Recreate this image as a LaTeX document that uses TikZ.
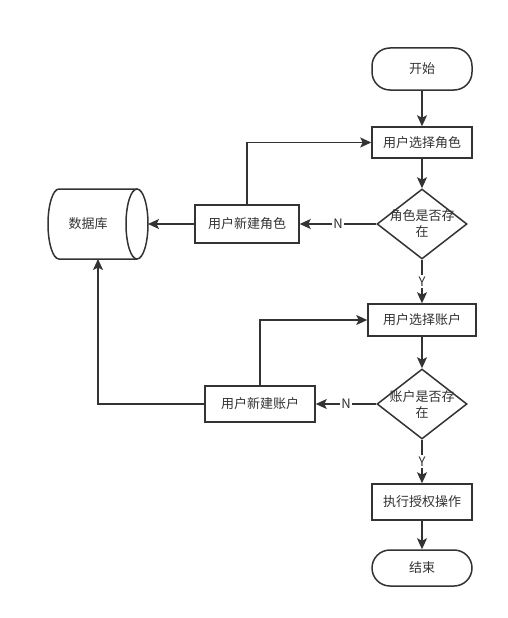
\documentclass[tikz,border=0pt]{standalone}
\usepackage{fontspec}
\setmainfont{Noto Sans CJK SC}
\usetikzlibrary{arrows.meta,shapes.geometric}
\definecolor{lc}{HTML}{333333}
\definecolor{tc}{HTML}{333333}
\begin{document}
\begin{tikzpicture}[x=1pt,y=-1pt,
  txt/.style={font=\fontsize{13}{16}\selectfont, text=tc, inner sep=0pt},
  box/.style={txt, draw=lc, line width=1.5pt, minimum width=100pt, minimum height=32pt},
  term/.style={box, rounded corners=18pt},
  dec/.style={diamond, draw=lc, line width=1.5pt, minimum width=90pt, minimum height=70pt, inner sep=0pt, aspect=1.2857},
  arr/.style={draw=lc, line width=1.5pt, -{Stealth[length=11pt,width=10pt,inset=2.5pt]}},
  lbl/.style={txt, fill=white, inner sep=1.5pt}
]
\useasboundingbox[fill=white] (0,0) rectangle (507,618);

\node[term, minimum height=42pt] (start) at (422,69) {开始};
\node[box, minimum height=31pt] (r1) at (422,142.5) {用户选择角色};
\node[dec] (d1) at (422,224) {};
\node[txt, align=center] (d1t) at (422,224) {角色是否存\\在};
\node[box, minimum width=104pt, minimum height=38pt] (nr) at (247,224) {用户新建角色};

% database cylinder
\draw[draw=lc, line width=1.5pt, fill=white] (137,189) -- (59,189)
  arc[start angle=90, end angle=270, x radius=11pt, y radius=35pt] -- (137,259);
\draw[draw=lc, line width=1.5pt] (137,224) ellipse[x radius=11pt, y radius=35pt];
\node[txt] (db) at (88,224) {数据库};
\coordinate (dbE) at (148,224);
\coordinate (dbS) at (98,259);

\node[box, minimum width=108pt, minimum height=32pt] (r2) at (422,320) {用户选择账户};
\node[dec] (d2) at (422,404) {};
\node[txt, align=center] (d2t) at (422,404) {账户是否存\\在};
\node[box, minimum width=110pt, minimum height=36pt] (na) at (260,404) {用户新建账户};
\node[box, minimum height=36pt] (r3) at (422,502) {执行授权操作};
\node[term, minimum height=36pt] (end) at (422,568) {结束};

\draw[arr] (start) -- (r1);
\draw[arr] (r1) -- (d1);
\draw[arr] (d1) -- node[lbl]{N} (nr);
\draw[arr] (nr) -- (dbE);
\draw[arr] (nr.north) |- (r1.west);
\draw[arr] (d1) -- node[lbl]{Y} (r2);
\draw[arr] (r2) -- (d2);
\draw[arr] (d2) -- node[lbl]{N} (na);
\draw[arr] (na.north) |- (r2.west);
\draw[arr] (na.west) -| (dbS);
\draw[arr] (d2) -- node[lbl]{Y} (r3);
\draw[arr] (r3) -- (end);
\end{tikzpicture}
\end{document}
